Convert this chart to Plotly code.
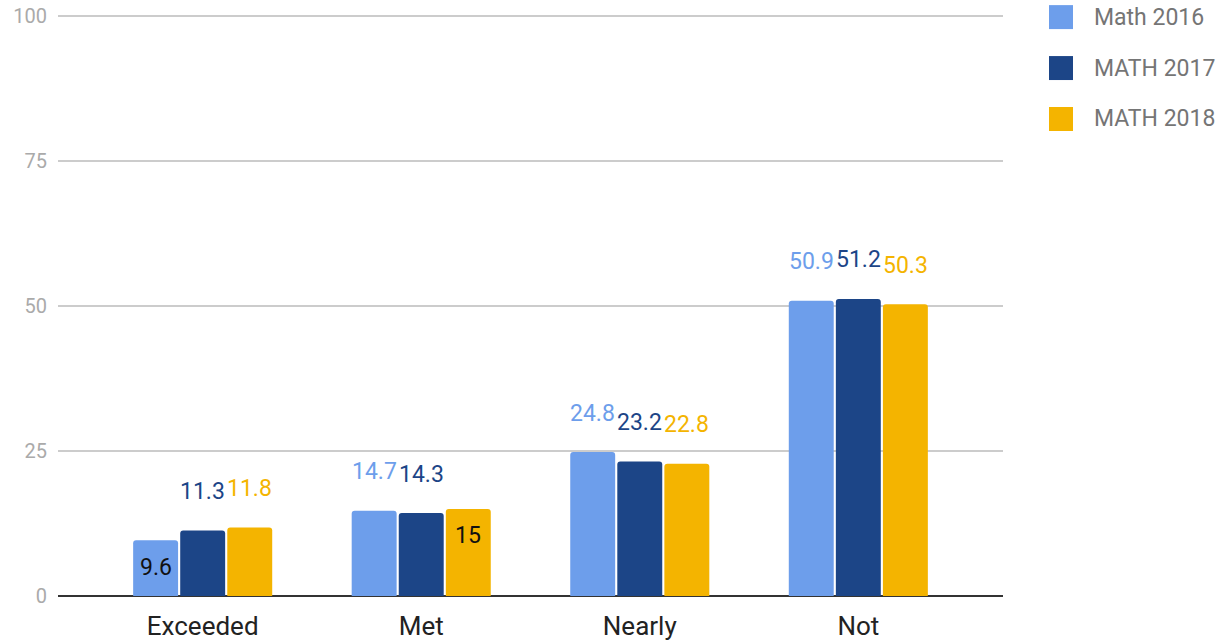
import plotly.graph_objects as go

# Category labels and series values (percent of students)
categories = ["Exceeded", "Met", "Nearly", "Not"]
series_names = ["Math 2016", "MATH 2017", "MATH 2018"]
math_2016 = [9.6, 14.7, 24.8, 50.9]
math_2017 = [11.3, 14.3, 23.2, 51.2]
math_2018 = [11.8, 15.0, 22.8, 50.3]
y_ticks = [0, 25, 50, 75, 100]

# Labels drawn inside their bar (in black) rather than above it
inside_labels = {("Math 2016", "Exceeded"), ("MATH 2018", "Met")}

colors = ["#6d9eeb", "#1c4587", "#f4b400"]
series_values = [math_2016, math_2017, math_2018]

FONT = "Roboto"
W, H = 1217, 641
Y_TOP = 101.0                      # headroom so the 100 gridline is drawn
zero_px, hundred_px = 596.5, 15.7  # pixel rows of the 0 and 100 lines
px_per_unit = (zero_px - hundred_px) / 100
M_L, M_R = 58, 214
M_B = H - zero_px
M_T = zero_px - px_per_unit * Y_TOP
plot_w = W - M_L - M_R
plot_h = H - M_T - M_B

x_range = [-0.662, 3.662]
px_per_cat = plot_w / (x_range[1] - x_range[0])
bargap = 0.354
slot_px = px_per_cat * (1 - bargap) / len(series_names)

fig = go.Figure()
for name, vals, col in zip(series_names, series_values, colors):
    fig.add_trace(go.Bar(
        x=categories, y=vals, name=name,
        marker=dict(color=col, cornerradius=3, line=dict(width=0)),
        showlegend=False,
    ))

# Value labels
annotations = []
for i, (name, vals, col) in enumerate(zip(series_names, series_values, colors)):
    xshift = (i - (len(series_names) - 1) / 2) * slot_px
    for cat, v in zip(categories, vals):
        inside = (name, cat) in inside_labels
        annotations.append(dict(
            x=cat, y=v, xref="x", yref="y",
            text=f"{v:g}", showarrow=False,
            xshift=xshift, yshift=-27 if inside else 39,
            xanchor="center", yanchor="middle",
            font=dict(family=FONT, size=23, color="#111111" if inside else col),
        ))

# Legend: rounded swatches with labels on the right
shapes = []
legend_rows_px = [17, 68, 119]
sw_left, sw_size = 1049, 24


def py_to_paper(py):
    return (H - M_B - py) / plot_h


for name, col, cy in zip(series_names, colors, legend_rows_px):
    shapes.append(dict(type="rect", xref="paper", yref="paper",
                       x0=(sw_left - M_L) / plot_w,
                       x1=(sw_left + sw_size - M_L) / plot_w,
                       y0=py_to_paper(cy + sw_size / 2),
                       y1=py_to_paper(cy - sw_size / 2),
                       fillcolor=col, line=dict(width=0), layer="above"))
    annotations.append(dict(
        x=(1092 - M_L) / plot_w, y=py_to_paper(cy),
        xref="paper", yref="paper", text=name, showarrow=False,
        xanchor="left", yanchor="middle",
        font=dict(family=FONT, size=23, color="#757575"),
    ))

fig.update_layout(
    width=W, height=H,
    margin=dict(l=M_L, r=M_R, t=M_T, b=M_B, pad=0, autoexpand=False),
    paper_bgcolor="white", plot_bgcolor="white",
    barmode="group", bargap=bargap, bargroupgap=0.045,
    font=dict(family=FONT),
    annotations=annotations, shapes=shapes,
    xaxis=dict(
        type="category", range=x_range, automargin=False,
        showgrid=False, showline=False, ticks="",
        tickfont=dict(family=FONT, size=26, color="#222222"),
        ticklabelstandoff=12,
    ),
    yaxis=dict(
        range=[0, Y_TOP], tickvals=y_ticks, automargin=False,
        showgrid=True, gridcolor="#cccccc", gridwidth=2,
        zeroline=True, zerolinecolor="#333333", zerolinewidth=2,
        showline=False, ticks="",
        tickfont=dict(family=FONT, size=20, color="#aaaaaa"),
        ticklabelstandoff=10,
    ),
)

fig.write_html("out.html")
